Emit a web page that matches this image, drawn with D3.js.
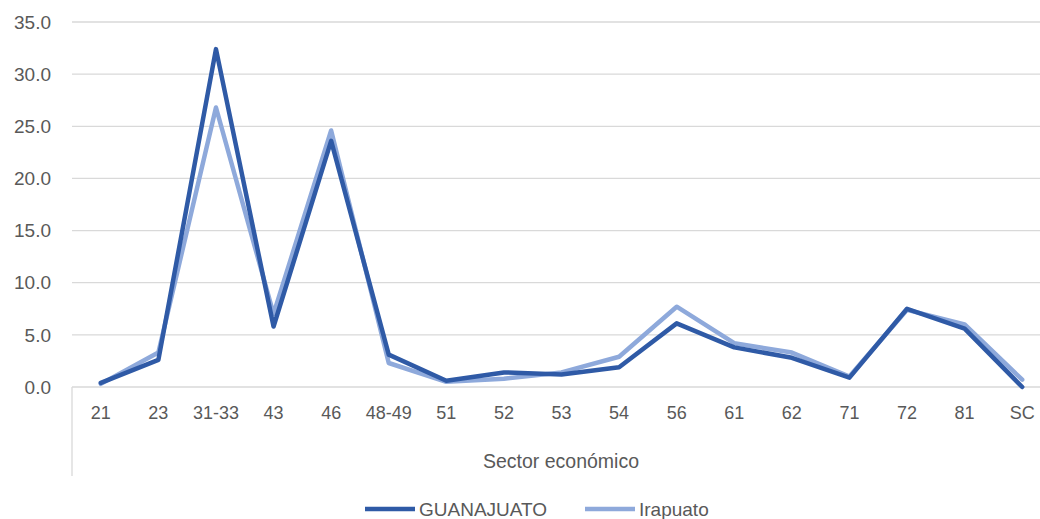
<!DOCTYPE html>
<html><head><meta charset="utf-8">
<script src="https://cdn.jsdelivr.net/npm/d3@7"></script>
<style>
body{margin:0;background:#fff;}
text{font-family:"Liberation Sans",Arial,sans-serif;fill:#595959;}
</style></head>
<body><svg id="c" width="1040" height="519"></svg>
<script>
const categories = ["21","23","31-33","43","46","48-49","51","52","53","54","56","61","62","71","72","81","SC"];
const guanajuato = [0.4,2.6,32.4,5.8,23.6,3.1,0.6,1.4,1.2,1.9,6.1,3.8,2.8,0.9,7.5,5.6,0.0];
const irapuato   = [0.3,3.3,26.8,7.0,24.6,2.3,0.5,0.8,1.4,2.9,7.7,4.2,3.3,1.0,7.4,6.0,0.7];
const yTicks = [0,5,10,15,20,25,30,35];
const seriesNames = ["GUANAJUATO","Irapuato"];
const colors = ["#2f5aa6","#8ea9db"];

(function(){
const svg = d3.select("#c");
const mLeft = 72, mRight = 1051, mTop = 22, mBottom = 387;
const x = d3.scaleBand().domain(categories).range([mLeft, mRight]);
const y = d3.scaleLinear().domain([0,35]).range([mBottom, mTop]);

svg.append("g").selectAll("line").data(yTicks).join("line")
  .attr("x1", mLeft).attr("x2", 1040)
  .attr("y1", d=>y(d)).attr("y2", d=>y(d))
  .attr("stroke", "#d9d9d9").attr("stroke-width", 1.3);

svg.append("g").selectAll("text").data(yTicks).join("text")
  .attr("x", 51).attr("y", d=>y(d)).attr("dy","0.35em")
  .attr("text-anchor","end").attr("font-size", 19)
  .text(d=>d.toFixed(1));

svg.append("line").attr("x1", mLeft).attr("x2", mLeft).attr("y1", mBottom).attr("y2", 476)
  .attr("stroke","#d9d9d9").attr("stroke-width",1.3);

svg.append("g").selectAll("text").data(categories).join("text")
  .attr("x", d=>x(d)+x.bandwidth()/2).attr("y", 413).attr("dy","0.35em")
  .attr("text-anchor","middle").attr("font-size", 18)
  .text(d=>d);

svg.append("text").attr("x", 561).attr("y", 461).attr("dy","0.35em")
  .attr("text-anchor","middle").attr("font-size", 19.5).text("Sector económico");

const line = d3.line().x((d,i)=>x(categories[i])+x.bandwidth()/2).y(d=>y(d));
[[irapuato, colors[1]], [guanajuato, colors[0]]].forEach(([s,c])=>{
  svg.append("path").datum(s).attr("d", line)
    .attr("fill","none").attr("stroke", c).attr("stroke-width", 4.5)
    .attr("stroke-linejoin","round").attr("stroke-linecap","round");
});

const lg = svg.append("g");
const legendItems = [{name:seriesNames[0], c:colors[0], x:365},{name:seriesNames[1], c:colors[1], x:585}];
legendItems.forEach(it=>{
  lg.append("line").attr("x1", it.x).attr("x2", it.x+50).attr("y1", 509).attr("y2", 509)
    .attr("stroke", it.c).attr("stroke-width", 4.5);
  lg.append("text").attr("x", it.x+54).attr("y", 509).attr("dy","0.35em")
    .attr("font-size", 19).text(it.name);
});
})();
</script></body></html>
